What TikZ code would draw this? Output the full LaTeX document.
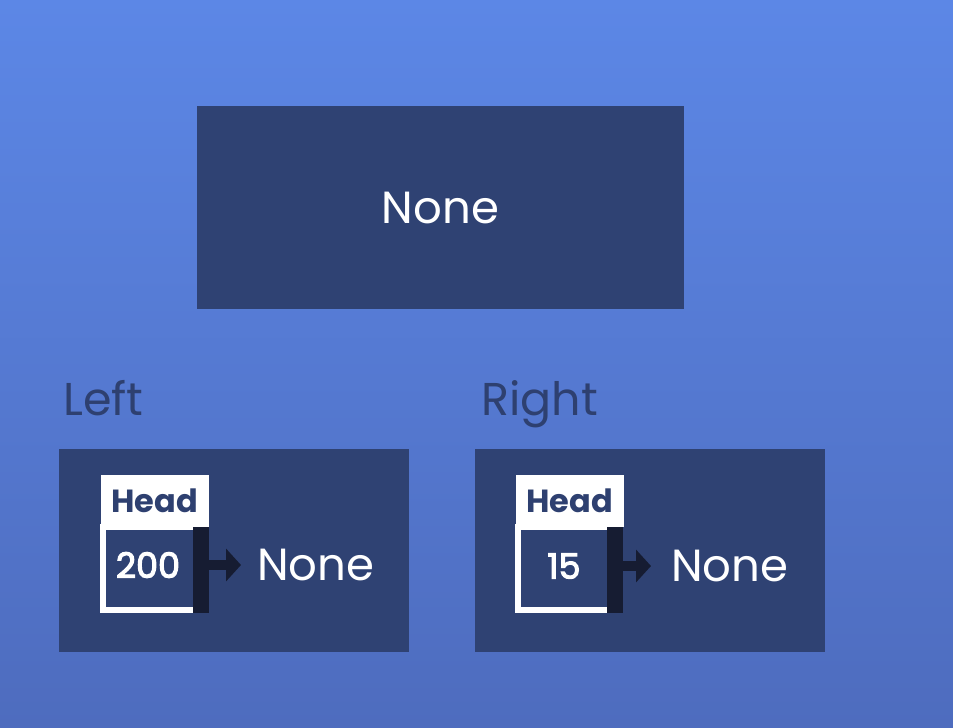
\documentclass[tikz,border=0pt]{standalone}
\usepackage{fontspec}
\setmainfont{Poppins}
\newfontfamily\valfont[FakeBold=3]{Poppins}
\usetikzlibrary{arrows.meta}
\definecolor{bgtop}{RGB}{92,135,230}
\definecolor{bgbot}{RGB}{78,108,190}
\definecolor{boxc}{RGB}{47,66,115}
\definecolor{barc}{RGB}{22,28,50}
\definecolor{lblc}{RGB}{46,64,112}
\tikzset{
  panel/.style={fill=boxc, draw=none, inner sep=0pt},
  headlbl/.style={fill=white, text=lblc, inner sep=0pt, minimum width=108pt, minimum height=52pt, font=\fontsize{32}{32}\selectfont\bfseries},
  frame/.style={draw=white, line width=6pt, fill=boxc, inner sep=0pt},
  bar/.style={fill=barc, draw=none, inner sep=0pt},
  ptr/.style={draw=barc, line width=10pt, -{Triangle[length=15pt,width=32pt]}},
  bigtxt/.style={text=white, inner sep=0pt, font=\fontsize{45}{45}\selectfont},
  valtxt/.style={text=white, inner sep=0pt, font=\valfont\fontsize{35}{35}\selectfont},
  sidelbl/.style={text=lblc, inner sep=0pt, anchor=base west, font=\fontsize{46}{46}\selectfont}
}
\begin{document}
\begin{tikzpicture}[x=1pt,y=-1pt]
\shade[top color=bgtop, bottom color=bgbot] (0,0) rectangle (953,728);
\useasboundingbox (0,0) rectangle (953,728);
% top box
\node[panel, minimum width=487pt, minimum height=203pt] (top) at (440.5,207.5) {};
\node[bigtxt] (topt) at (top.center) {None};
% labels
\node[sidelbl] (left) at (63,415) {Left};
\node[sidelbl] (right) at (481,415) {Right};
% left panel
\node[panel, minimum width=350pt, minimum height=203pt] (lp) at (234,550.5) {};
\node[frame, minimum width=97pt, minimum height=83pt] (lf) at (151.5,568.5) {};
\node[headlbl] (lh) at (154.5,500.5) {Head};
\node[bar, minimum width=16pt, minimum height=86pt] (lb) at (201,570) {};
\coordinate (ltip) at (241,565);
\draw[ptr] (lb.east |- ltip) -- (ltip);
\node[valtxt] (lv) at (148,565) {200};
\node[bigtxt, anchor=west] (ln) at (257,565) {None};
% right panel
\node[panel, minimum width=350pt, minimum height=203pt] (rp) at (650,550.5) {};
\node[frame, minimum width=94pt, minimum height=83pt] (rf) at (565,568.5) {};
\node[headlbl] (rh) at (569.5,500.5) {Head};
\node[bar, minimum width=16pt, minimum height=86pt] (rb) at (615,570) {};
\coordinate (rtip) at (651,566);
\draw[ptr] (rb.east |- rtip) -- (rtip);
\node[valtxt] (rv) at (564,566) {15};
\node[bigtxt, anchor=west] (rn) at (671,566) {None};
\end{tikzpicture}
\end{document}
